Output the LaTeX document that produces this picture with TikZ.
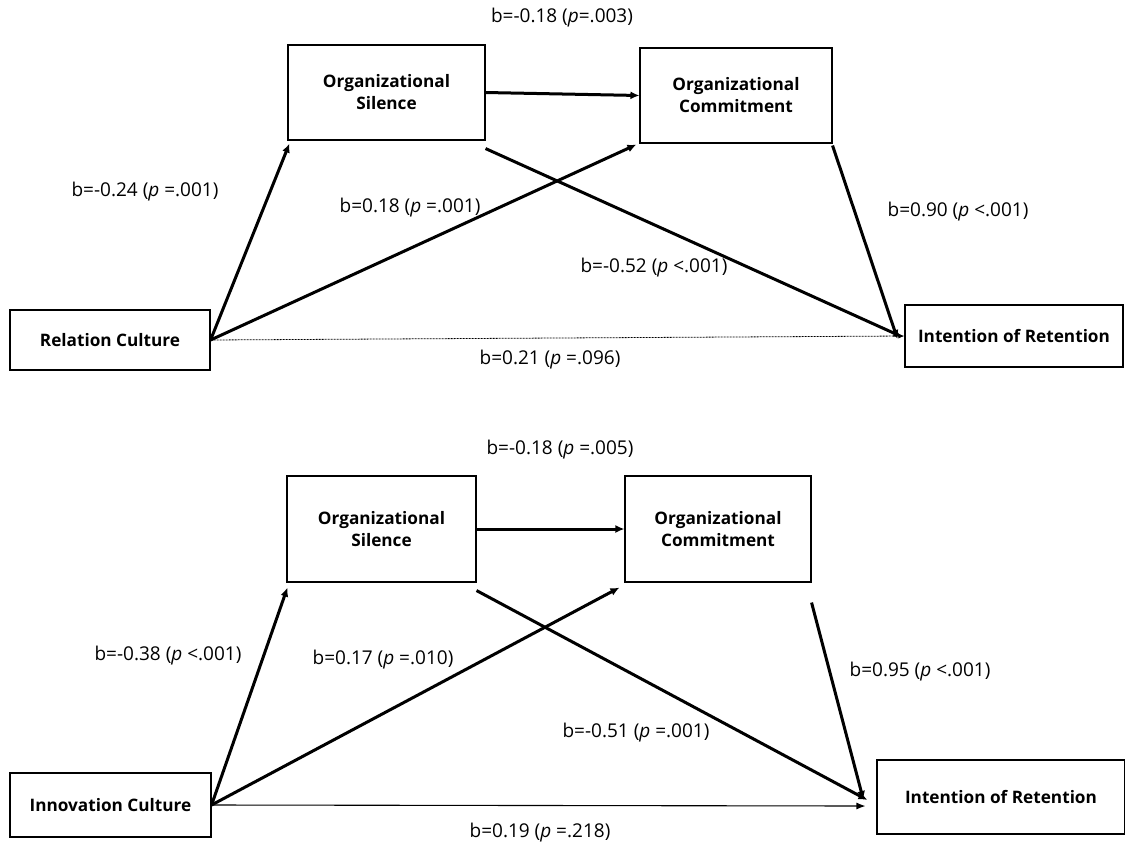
\documentclass[tikz,border=0pt]{standalone}
\usepackage{fontspec}
\setmainfont{Open Sans}
\usetikzlibrary{arrows.meta}
\begin{document}
\begin{tikzpicture}[x=1pt,y=-1pt,
  box/.style={draw, line width=1.1pt, inner sep=0pt, align=center, font=\fontsize{17.2}{22}\selectfont\bfseries},
  lbl/.style={font=\fontsize{19}{22}\selectfont, inner sep=0pt},
  arr/.style={line width=3pt, -{Latex[length=9pt,width=8pt]}},
  thinarr/.style={line width=1.1pt, -{Latex[length=9pt,width=7pt]}}]
\useasboundingbox (0,0) rectangle (1125,847);
% ---------- top model ----------
\node[box, minimum width=200pt, minimum height=60pt] (rc) at (110,340) {Relation Culture};
\node[box, minimum width=197pt, minimum height=95pt] (sil1) at (386.5,92.5) {Organizational\\Silence};
\node[box, minimum width=192pt, minimum height=95pt] (com1) at (736,95.5) {Organizational\\Commitment};
\node[box, minimum width=218pt, minimum height=62pt] (ir1) at (1014,336) {Intention of Retention};

\draw[arr] (rc.east) -- ([xshift=2pt,yshift=-3pt]sil1.south west);
\draw[arr] (rc.east) -- ([xshift=-3pt,yshift=-1pt]com1.south west);
\draw[arr] (sil1.east) -- (com1.west);
\draw[arr] ([yshift=-8pt]sil1.south east) -- ([xshift=-2pt,yshift=-1pt]ir1.west);
\draw[arr] ([yshift=-2pt]com1.south east) -- ([xshift=-7pt,yshift=-3pt]ir1.west);
\draw[line width=0.8pt, dash pattern=on 2pt off 1pt, -{Latex[length=6pt,width=5pt]}] (rc.east) -- (ir1.west);

\node[lbl] (l1) at (562,18) {b=-0.18 (\textit{p}=.003)};
\node[lbl] (l2) at (145,192) {b=-0.24 (\textit{p} =.001)};
\node[lbl] (l3) at (410,208) {b=0.18 (\textit{p} =.001)};
\node[lbl] (l4) at (654,268) {b=-0.52 (\textit{p} <.001)};
\node[lbl] (l5) at (958,212) {b=0.90 (\textit{p} <.001)};
\node[lbl] (l6) at (550,360) {b=0.21 (\textit{p} =.096)};

% ---------- bottom model ----------
\node[box, minimum width=201pt, minimum height=64pt] (ic) at (110.5,805) {Innovation Culture};
\node[box, minimum width=189pt, minimum height=106pt] (sil2) at (381.5,529) {Organizational\\Silence};
\node[box, minimum width=186pt, minimum height=106pt] (com2) at (718,529) {Organizational\\Commitment};
\node[box, minimum width=248pt, minimum height=74pt] (ir2) at (1001,797) {Intention of Retention};

\draw[arr] (ic.east) -- ([xshift=1pt,yshift=-5pt]sil2.south west);
\draw[arr] (ic.east) -- ([xshift=-5pt,yshift=-5pt]com2.south west);
\draw[arr] (sil2.east) -- (com2.west);
\draw[arr] ([yshift=-8pt]sil2.south east) -- ([xshift=-9pt,yshift=-3pt]ir2.west);
\draw[arr] ([yshift=-20pt]com2.south east) -- ([xshift=-13pt,yshift=-3pt]ir2.west);
\draw[thinarr] (ic.east) -- ([xshift=-11pt,yshift=-9pt]ir2.west);

\node[lbl] (m1) at (560,450) {b=-0.18 (\textit{p} =.005)};
\node[lbl] (m2) at (168,656) {b=-0.38 (\textit{p} <.001)};
\node[lbl] (m3) at (383,660) {b=0.17 (\textit{p} =.010)};
\node[lbl] (m4) at (636,733) {b=-0.51 (\textit{p} =.001)};
\node[lbl] (m5) at (920,672) {b=0.95 (\textit{p} <.001)};
\node[lbl] (m6) at (540,833) {b=0.19 (\textit{p} =.218)};
\end{tikzpicture}
\end{document}
